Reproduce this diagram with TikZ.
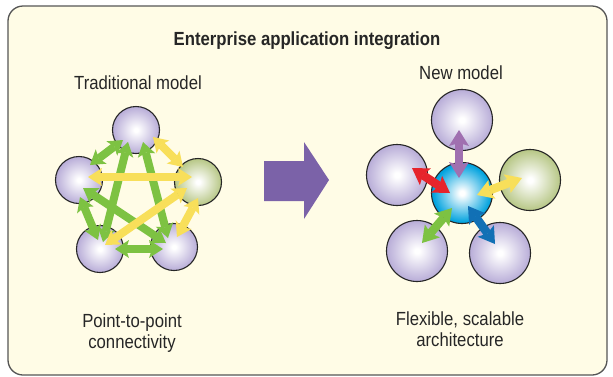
\documentclass[tikz,border=0pt]{standalone}
\usepackage{fontspec}
\setmainfont{Liberation Sans}[FakeStretch=0.88]
\usetikzlibrary{arrows.meta}
\definecolor{bg}{HTML}{FFFCE6}
\definecolor{frame}{HTML}{555555}
\definecolor{txt}{HTML}{262626}
\definecolor{cP}{HTML}{9C8CC8}
\definecolor{cGr}{HTML}{9AB055}
\definecolor{cC}{HTML}{00A2DE}
\definecolor{bigarrow}{HTML}{7B62A8}
\definecolor{aG}{HTML}{7DC242}
\definecolor{aY}{HTML}{F8DF5A}
\definecolor{aP}{HTML}{A070B0}
\definecolor{aR}{HTML}{E6242B}
\definecolor{aB}{HTML}{1170B5}
\pgfdeclareradialshading{sphP}{\pgfpoint{0bp}{0bp}}{color(0bp)=(white); color(2bp)=(white); color(34bp)=(cP); color(50bp)=(cP)}
\pgfdeclareradialshading{sphG}{\pgfpoint{0bp}{0bp}}{color(0bp)=(white); color(2bp)=(white); color(34bp)=(cGr); color(50bp)=(cGr)}
\pgfdeclareradialshading{sphC}{\pgfpoint{0bp}{0bp}}{color(0bp)=(white); color(2bp)=(white); color(24bp)=(cC); color(50bp)=(cC)}
\tikzset{
  sph/.style={circle, draw=black!85, line width=1.1pt, inner sep=0pt, shade},
  small/.style={sph, minimum size=47pt},
  big/.style={sph, minimum size=61pt},
  larr/.style={line width=8pt, >={Stealth[length=14pt,width=18pt,inset=3pt,line width=0pt]}, <->},
  rarr/.style={line width=8.5pt, >={Stealth[length=16pt,width=20pt,inset=3pt,line width=0pt]}, <->},
  lbl/.style={text=txt, font=\fontsize{19}{22}\selectfont, anchor=base},
}
\begin{document}
\begin{tikzpicture}[x=1pt, y=-1pt]
\useasboundingbox (0,0) rectangle (613,376);
\draw[fill=bg, draw=frame, line width=1.3pt, rounded corners=15pt] (8,6) rectangle (607,375);

\node[lbl, font=\fontsize{19}{22}\selectfont\bfseries] (title) at (307,45) {Enterprise application integration};
\node[lbl] (tradlbl) at (138,89) {Traditional model};
\node[lbl] (newlbl) at (461,79) {New model};
\node[lbl] (p2p) at (132,327) {Point-to-point};
\node[lbl] (conn) at (132,348) {connectivity};
\node[lbl] (flex) at (460,325) {Flexible, scalable};
\node[lbl] (arch) at (460,346) {architecture};

% traditional model
\node[small, shading=sphP] (T) at (136,130) {};
\node[small, shading=sphP] (L) at (79,180) {};
\node[small, shading=sphG] (R) at (198,182) {};
\node[small, shading=sphP] (BL) at (100,249) {};
\node[small, shading=sphP] (BR) at (174,247) {};

\draw[larr, aG] ([shift={(-13,10)}]T.center) -- ([shift={(11,-15)}]L.center);
\draw[larr, aG] ([shift={(-8,12)}]T.center) -- ([shift={(3,-7)}]BL.center);
\draw[larr, aG] ([shift={(7,12)}]T.center) -- ([shift={(-6,-9)}]BR.center);
\draw[larr, aG] ([shift={(4,8)}]L.center) -- ([shift={(-8,-4)}]BR.center);
\draw[larr, aG] ([shift={(1,17)}]L.center) -- ([shift={(-2,-9)}]BL.center);
\draw[larr, aG] ([shift={(15,0)}]BL.center) -- ([shift={(-11,2)}]BR.center);
\draw[larr, aY] ([shift={(17,7)}]T.center) -- ([shift={(-15,-15)}]R.center);
\draw[larr, aY] ([shift={(9,-3)}]L.center) -- ([shift={(-6,-5)}]R.center);
\draw[larr, aY] ([shift={(-11,6)}]R.center) -- ([shift={(5,-4)}]BL.center);
\draw[larr, aY] ([shift={(0,16)}]R.center) -- ([shift={(3,-10)}]BR.center);

% big arrow
\fill[bigarrow] (264,161) -- (304,161) -- (304,142) -- (329,180) -- (304,219) -- (304,201) -- (264,201) -- cycle;

% new model
\node[big, shading=sphP] (NT) at (462,120) {};
\node[big, shading=sphP] (NL) at (397,175) {};
\node[big, shading=sphG] (NR) at (530,180) {};
\node[big, shading=sphP] (NBL) at (417,251) {};
\node[big, shading=sphP] (NBR) at (500,253) {};
\node[big, shading=sphC] (NC) at (462,193) {};

\draw[rarr, aP] ([shift={(-3,10)}]NT.center) -- ([shift={(-3,-15)}]NC.center);
\draw[rarr, aR] ([shift={(15,-7)}]NL.center) -- ([shift={(-12,0)}]NC.center);
\draw[rarr, aY] ([shift={(15,2)}]NC.center) -- ([shift={(-8,-2)}]NR.center);
\draw[rarr, aG] ([shift={(-10,15)}]NC.center) -- ([shift={(5,-8)}]NBL.center);
\draw[rarr, aB] ([shift={(6,13)}]NC.center) -- ([shift={(-5,-9)}]NBR.center);
\end{tikzpicture}
\end{document}
